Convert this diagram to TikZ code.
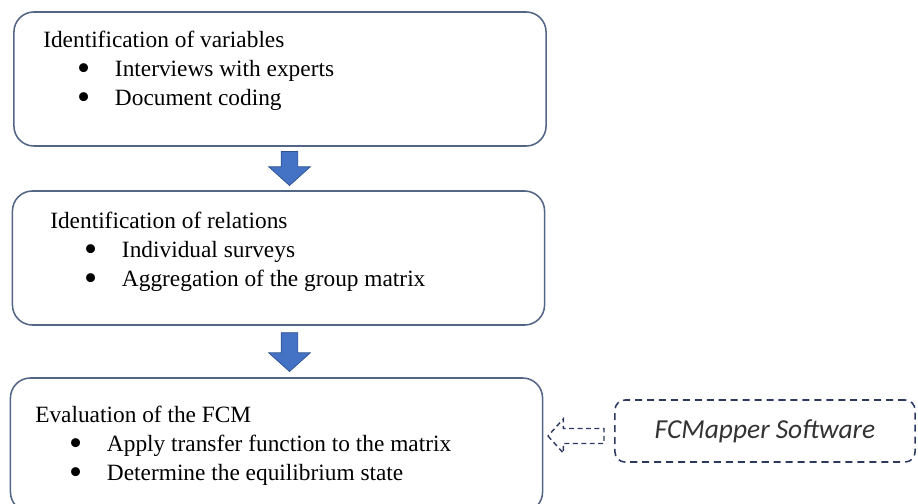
\documentclass[tikz,border=0pt]{standalone}
\usepackage{fontspec}
\setmainfont{Liberation Serif}
\newfontfamily\softfont{Carlito}
\usepackage{xcolor}
\definecolor{boxline}{RGB}{84,102,134}
\definecolor{arrowblue}{RGB}{68,114,196}
\definecolor{arrowedge}{RGB}{47,82,143}
\definecolor{dashnavy}{RGB}{44,58,96}
\usepackage{tikz}
\usetikzlibrary{
    shapes.arrows,
    arrows.meta,
    positioning,
    calc
}
\newcommand{\itm}{\hspace*{24pt}\makebox[27pt][l]{\raisebox{-2.8pt}[0pt][0pt]{\scalebox{1.6}{\textbullet}}}}

\begin{document}
\begin{tikzpicture}[
        x=0.025cm, y=-0.025cm,
        stagebox/.style={rectangle, rounded corners=0.5cm, draw=boxline, line width=1.1pt, fill=white, minimum height=3.35cm, minimum width=13.3cm},
        stagetext/.style={anchor=north west, inner sep=0pt, align=left, font=\fontsize{16.6}{20.5}\selectfont},
        blockarrow/.style={single arrow, rotate=-90, anchor=tip, fill=arrowblue, draw=arrowedge, line width=0.5pt, inner xsep=0pt, inner ysep=0.2cm, single arrow head extend=0.31cm, single arrow tip angle=96},
        softbox/.style={rectangle, rounded corners=0.25cm, draw=dashnavy, line width=1.1pt, dash pattern=on 5pt off 3.5pt, minimum width=7.5cm, minimum height=1.55cm, font=\softfont\itshape\fontsize{19.5}{22}\selectfont, text=black!80},
        inputarrow/.style={single arrow, rotate=180, anchor=tip, draw=dashnavy, line width=1pt, dash pattern=on 3.5pt off 2.5pt, inner xsep=0pt, inner ysep=0.17cm, single arrow head extend=0.24cm, single arrow tip angle=96, minimum height=1.4cm}
    ]
        \clip (0,0) rectangle (918,504);

        \node[stagebox] (variables) at (280,79) {};
        \node[stagebox] (relations) at (278.5,258) {};
        \node[stagebox] (evaluation) at (276.5,445) {};

        \node[stagetext] (variablestext) at (43,31) {Identification of variables\\ \itm Interviews with experts\\ \itm Document coding};
        \node[stagetext] (relationstext) at (50,212) {Identification of relations\\ \itm Individual surveys\\ \itm Aggregation of the group matrix};
        \node[stagetext] (evaluationtext) at (35,406) {Evaluation of the FCM\\ \itm Apply transfer function to the matrix\\ \itm Determine the equilibrium state};

        \node[blockarrow, minimum height=0.85cm] (arrowone) at (289.5,186) {};
        \node[blockarrow, minimum height=0.97cm] (arrowtwo) at (289.5,372) {};

        \node[softbox] (software) at (765,431) {FCMapper Software};
        \node[inputarrow] (softarrow) at (547,436) {};
    \end{tikzpicture}
\end{document}
